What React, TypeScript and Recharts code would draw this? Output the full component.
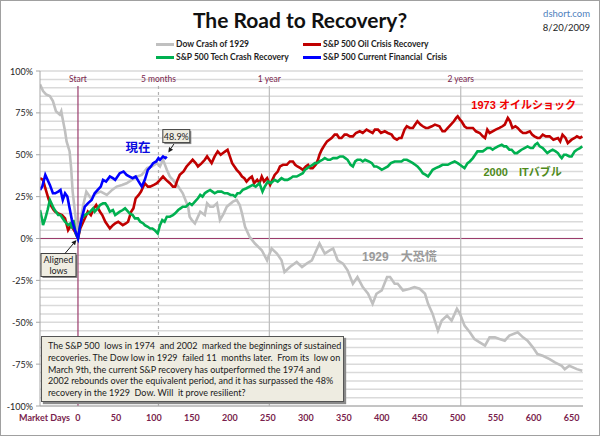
import React from "react";
import {
  LineChart,
  Line,
  XAxis,
  YAxis,
  CartesianGrid,
  ReferenceLine,
  ReferenceDot,
} from "recharts";

// [market day, % recovery measured from the aligned low]
const dow1929: [number, number][] = [
  [-50, 92], [-46, 88], [-42, 86], [-37, 85], [-33, 82], [-29, 76], [-24, 74], [-22, 76], [-20, 71],
  [-17, 64], [-15, 58], [-11, 52], [-9, 42], [-7, 28], [-4, 16], [-2, 8], [0, 0], [3, 10], [7, 20],
  [11, 28], [17, 24], [24, 27], [30, 28], [38, 26], [45, 29], [51, 31], [58, 32], [64, 33], [71, 35],
  [78, 37], [84, 38], [91, 42], [97, 43], [104, 45], [108, 43], [112, 47], [117, 41], [121, 37],
  [125, 35], [132, 31], [138, 27], [145, 19], [147, 13], [150, 11], [154, 9], [158, 13], [161, 16],
  [167, 14], [170, 21], [174, 19], [178, 19], [183, 21], [187, 11], [192, 15], [196, 19], [204, 22],
  [209, 23], [213, 20], [216, 15], [220, 7], [226, 1], [233, -3], [242, -7], [249, -13], [255, -6],
  [262, -9], [268, -13], [272, -20], [279, -17], [288, -14], [295, -17], [301, -15], [308, -13],
  [312, -9], [318, -3], [325, -9], [332, -7], [336, -6], [342, -13], [349, -15], [355, -19], [362, -27],
  [368, -23], [375, -29], [382, -33], [388, -39], [393, -33], [400, -31], [407, -23], [411, -23],
  [417, -27], [421, -27], [428, -31], [437, -30], [443, -29], [450, -30], [457, -33], [461, -39],
  [467, -45], [474, -55], [479, -49], [486, -46], [492, -49], [499, -42], [503, -45], [509, -52],
  [516, -56], [522, -60], [529, -62], [536, -64], [542, -59], [549, -59], [555, -60], [562, -61],
  [568, -58], [579, -56], [586, -59], [592, -61], [599, -65], [605, -69], [612, -70], [621, -72],
  [628, -74], [637, -76], [641, -78], [647, -76], [657, -78], [664, -79],
];

const oil1973: [number, number][] = [
  [-50, 36], [-46, 35], [-43, 30], [-39, 24], [-36, 20], [-32, 17], [-30, 16], [-26, 15], [-21, 14],
  [-17, 12], [-13, 5], [-9, 8], [-4, 4], [0, 0], [3, 6], [7, 10], [10, 13], [13, 16], [17, 14],
  [21, 18], [24, 20], [29, 16], [32, 14], [36, 10], [42, 6], [46, 8], [49, 9], [53, 10], [59, 8],
  [63, 9], [66, 10], [70, 16], [73, 18], [76, 24], [80, 26], [83, 28], [88, 33], [92, 31], [95, 31],
  [100, 32], [104, 33], [108, 35], [112, 37], [116, 35], [121, 33], [125, 31], [128, 31], [131, 35],
  [134, 38], [139, 40], [143, 43], [147, 45], [151, 47], [155, 45], [158, 43], [163, 45], [167, 47],
  [170, 49], [173, 47], [176, 45], [180, 49], [184, 52], [188, 50], [191, 51], [194, 52], [197, 53],
  [200, 49], [203, 45], [206, 43], [209, 41], [213, 39], [216, 37], [219, 36], [222, 34], [226, 36],
  [229, 37], [232, 33], [236, 35], [239, 33], [242, 37], [245, 34], [249, 36], [253, 32], [256, 35],
  [259, 38], [263, 40], [266, 43], [270, 44], [275, 44], [279, 46], [283, 46], [286, 44], [289, 43],
  [293, 42], [296, 41], [300, 43], [303, 44], [306, 42], [309, 42], [313, 44], [316, 47], [318, 50],
  [321, 53], [325, 56], [328, 58], [331, 59], [334, 60], [338, 62], [341, 62], [344, 60], [347, 60],
  [351, 62], [354, 62], [358, 61], [362, 61], [366, 63], [371, 64], [375, 63], [380, 65], [384, 64],
  [388, 63], [391, 65], [395, 65], [399, 63], [404, 64], [408, 63], [413, 62], [416, 60], [420, 59],
  [423, 60], [426, 60], [430, 65], [433, 67], [437, 66], [441, 66], [444, 68], [447, 70], [451, 68],
  [454, 67], [458, 66], [461, 66], [466, 67], [470, 68], [476, 67], [480, 64], [483, 64], [487, 66],
  [491, 68], [495, 70], [498, 72], [500, 73], [503, 71], [505, 70], [509, 67], [512, 66], [516, 66],
  [520, 66], [524, 64], [529, 63], [533, 61], [536, 60], [539, 65], [542, 63], [546, 64], [550, 65],
  [555, 66], [559, 67], [562, 68], [566, 72], [569, 70], [572, 66], [576, 67], [579, 66], [583, 64],
  [586, 63], [590, 63], [595, 64], [598, 62], [601, 61], [605, 60], [608, 60], [612, 62], [616, 61],
  [621, 61], [626, 59], [632, 60], [635, 58], [638, 62], [642, 60], [645, 57], [650, 59], [654, 60],
  [657, 61], [661, 60], [664, 61],
];

const tech2000: [number, number][] = [
  [-50, 17], [-47, 11], [-46, 8], [-43, 12], [-40, 17], [-37, 23], [-35, 21], [-32, 18], [-29, 16],
  [-26, 14], [-23, 14], [-20, 12], [-17, 10], [-13, 8], [-10, 9], [-8, 6], [-6, 11], [-3, 3], [0, 0],
  [3, 8], [5, 12], [9, 14], [13, 15], [16, 16], [20, 18], [22, 16], [26, 18], [29, 20], [33, 21],
  [36, 21], [39, 19], [42, 16], [46, 17], [49, 14], [52, 15], [55, 16], [59, 17], [62, 18], [66, 16],
  [68, 15], [72, 14], [75, 12], [79, 12], [82, 10], [86, 9], [88, 8], [92, 7], [95, 6], [98, 6],
  [101, 5], [105, 3], [108, 8], [111, 11], [114, 10], [117, 13], [121, 13], [125, 14], [128, 15],
  [132, 17], [135, 18], [138, 19], [142, 19], [147, 21], [150, 20], [154, 22], [158, 24], [161, 26],
  [164, 25], [167, 27], [170, 28], [174, 29], [177, 28], [180, 27], [184, 28], [189, 28], [193, 27],
  [197, 27], [201, 26], [204, 26], [207, 25], [210, 27], [213, 27], [217, 29], [222, 30], [226, 31],
  [230, 32], [234, 31], [239, 33], [243, 28], [246, 31], [250, 34], [254, 33], [259, 35], [263, 34],
  [268, 36], [272, 35], [276, 35], [280, 36], [283, 37], [288, 37], [292, 38], [296, 39], [299, 41],
  [302, 42], [305, 43], [309, 44], [312, 45], [315, 45], [318, 46], [322, 47], [325, 48], [329, 47],
  [332, 47], [336, 48], [341, 48], [345, 49], [349, 49], [352, 48], [355, 47], [359, 44], [362, 43],
  [365, 46], [368, 47], [372, 47], [375, 46], [378, 47], [383, 46], [387, 45], [390, 43], [393, 43],
  [397, 42], [400, 41], [404, 42], [408, 43], [412, 45], [417, 46], [421, 46], [426, 46], [429, 47],
  [433, 47], [437, 46], [441, 45], [444, 44], [447, 43], [451, 41], [454, 39], [458, 38], [461, 37],
  [464, 39], [467, 41], [471, 42], [476, 43], [480, 44], [483, 44], [487, 44], [491, 45], [496, 46],
  [500, 45], [503, 44], [506, 43], [509, 42], [513, 45], [516, 46], [520, 48], [523, 50], [526, 52],
  [530, 52], [533, 52], [536, 53], [539, 54], [543, 54], [546, 53], [549, 54], [553, 55], [558, 56],
  [561, 55], [564, 55], [568, 53], [571, 53], [575, 51], [578, 51], [581, 52], [584, 53], [588, 54],
  [592, 55], [596, 54], [599, 54], [602, 56], [605, 57], [608, 55], [612, 54], [616, 52], [618, 51],
  [621, 52], [625, 53], [629, 52], [632, 51], [635, 49], [637, 48], [640, 50], [643, 50], [647, 49],
  [650, 49], [654, 52], [657, 53], [661, 54], [664, 55],
];

const current2009: [number, number][] = [
  [-50, 29], [-47, 31], [-43, 38], [-41, 36], [-37, 32], [-33, 27], [-30, 27], [-26, 28], [-23, 29],
  [-20, 23], [-17, 27], [-14, 25], [-11, 18], [-8, 11], [-4, 5], [0, 0], [3, 8], [6, 14], [9, 19],
  [13, 21], [18, 23], [22, 27], [26, 29], [30, 31], [33, 35], [37, 34], [42, 37], [46, 36], [49, 35],
  [55, 39], [60, 40], [64, 38], [68, 37], [72, 36], [76, 37], [80, 34], [84, 31], [88, 35], [92, 41],
  [96, 43], [99, 45], [103, 46], [106, 48], [108, 47], [112, 49], [115, 48], [117, 48.9],
];

const dayTicks = [0, 50, 100, 150, 200, 250, 300, 350, 400, 450, 500, 550, 600, 650];
const pctTicks = [
  -100, -95, -90, -85, -80, -75, -70, -65, -60, -55, -50, -45, -40, -35, -30, -25, -20, -15, -10, -5,
  0, 5, 10, 15, 20, 25, 30, 35, 40, 45, 50, 55, 60, 65, 70, 75, 80, 85, 90, 95, 100,
];

const milestones = [
  { day: 0, label: "Start", stroke: "#9b3b6b", dash: undefined },
  { day: 106, label: "5 months", stroke: "#b0b0b0", dash: "3 3" },
  { day: 252, label: "1 year", stroke: "#bdbdbd", dash: undefined },
  { day: 504, label: "2 years", stroke: "#bdbdbd", dash: undefined },
];

const series = [
  { name: "Dow Crash of 1929", color: "#c0c0c0", points: dow1929 },
  { name: "S&P 500 Oil Crisis Recovery", color: "#c00000", points: oil1973 },
  { name: "S&P 500 Tech Crash Recovery", color: "#00b050", points: tech2000 },
  { name: "S&P 500 Current Financial  Crisis", color: "#0000ff", points: current2009 },
];

const noteLines = [
  "The S&P 500  lows in 1974  and 2002  marked the beginnings of sustained",
  "recoveries. The Dow low in 1929  failed 11  months later.  From its  low on",
  "March 9th, the current S&P recovery has outperformed the 1974 and",
  "2002 rebounds over the equivalent period, and it has surpassed the 48%",
  "recovery in the 1929  Dow. Will  it prove resilient?",
];

const FONT = "Lato, 'Open Sans', sans-serif";
const JP_FONT = "'Liberation Sans', 'Noto Sans CJK JP', sans-serif";
const MAROON = "#7a1f4e";

const toPoints = (pts: [number, number][]) => pts.map(([day, pct]) => ({ day, pct }));
const lastCurrent = current2009[current2009.length - 1];

function Arrow({ x1, y1, x2, y2 }: { x1: number; y1: number; x2: number; y2: number }) {
  const a = Math.atan2(y2 - y1, x2 - x1);
  const len = 5;
  const w = 2.4;
  const bx = x2 - len * Math.cos(a);
  const by = y2 - len * Math.sin(a);
  const px = -Math.sin(a) * w;
  const py = Math.cos(a) * w;
  return (
    <g>
      <line x1={x1} y1={y1} x2={bx} y2={by} stroke="#1a1a1a" strokeWidth={1} />
      <polygon points={`${x2},${y2} ${bx + px},${by + py} ${bx - px},${by - py}`} fill="#1a1a1a" />
    </g>
  );
}

function NoteBox({ x, y, w, h, lines }: { x: number; y: number; w: number; h: number; lines: string[] }) {
  return (
    <g>
      <rect x={x + 1.5} y={y + 1.5} width={w} height={h} fill="#8a8a8a" />
      <rect x={x} y={y} width={w} height={h} fill="#efede2" stroke="#404040" strokeWidth={1} />
      {lines.map((t, i) => (
        <text
          key={t}
          x={x + w / 2}
          y={y + h / 2 + (i - (lines.length - 1) / 2) * 10.5}
          textAnchor="middle"
          dominantBaseline="central"
          fontFamily={FONT}
          fontSize={9}
          fill="#222"
        >
          {t}
        </text>
      ))}
    </g>
  );
}

function YTick({ x, y, payload }: any) {
  if (payload.value % 25 !== 0) return <g />;
  return (
    <g>
      <line x1={x - 4} y1={y} x2={x} y2={y} stroke="#a6a6a6" />
      <text x={x - 7} y={y} textAnchor="end" dominantBaseline="central" fontFamily={FONT} fontSize={9} fill="#262626">
        {payload.value}%
      </text>
    </g>
  );
}

function XTick({ x, y, payload }: any) {
  return (
    <text x={x} y={y + 11} textAnchor="middle" dominantBaseline="central" fontFamily={FONT} fontWeight="bold" fontSize={9} fill={MAROON}>
      {payload.value}
    </text>
  );
}

function Legend() {
  return (
    <>
      {series.map((s, i) => (
        <div
          key={s.name}
          style={{
            position: "absolute",
            left: i % 2 === 0 ? 156 : 303,
            top: i < 2 ? 38 : 51,
            height: 12,
            display: "flex",
            alignItems: "center",
            fontFamily: FONT,
            fontWeight: "bold",
            fontSize: 8.5,
            color: "#1e1e1e",
            whiteSpace: "pre",
          }}
        >
          <span style={{ width: 18, height: 3, background: s.color, marginRight: 2 }} />
          {s.name}
        </div>
      ))}
    </>
  );
}

export default function App() {
  return (
    <div style={{ position: "fixed", left: 0, top: 0, width: 600, height: 436, background: "#fff", overflow: "hidden" }}>
      <div style={{ position: "absolute", top: 7, left: 0, width: 600, textAlign: "center", fontFamily: FONT, fontWeight: "bold", fontSize: 21, color: "#111" }}>
        The Road to Recovery?
      </div>
      <div style={{ position: "absolute", top: 7, right: 10, textAlign: "right", fontFamily: FONT, fontSize: 9.5, lineHeight: "14px" }}>
        <div style={{ color: "#4f81bd" }}>dshort.com</div>
        <div style={{ color: "#222" }}>8/20/2009</div>
      </div>
      <Legend />

      <LineChart width={600} height={436} margin={{ top: 71, right: 17, bottom: 0, left: 0 }} style={{ position: "absolute", left: 0, top: 0 }}>
        <CartesianGrid vertical={false} stroke="#dadada" strokeWidth={1.5} />
        <XAxis
          dataKey="day"
          type="number"
          domain={[-50, 665]}
          ticks={dayTicks}
          allowDataOverflow
          height={30}
          tickSize={0}
          tickMargin={0}
          tickLine={false}
          axisLine={{ stroke: "#a6a6a6" }}
          tick={<XTick />}
          label={({ viewBox }: any) => (
            <text x={viewBox.x + 30} y={viewBox.y + 11} textAnchor="end" dominantBaseline="central" fontFamily={FONT} fontWeight="bold" fontSize={9} fill={MAROON}>
              Market Days
            </text>
          )}
        />
        <YAxis
          type="number"
          domain={[-100, 100]}
          ticks={pctTicks}
          interval={0}
          width={40}
          tickSize={0}
          tickMargin={0}
          tickLine={false}
          axisLine={{ stroke: "#a6a6a6" }}
          tick={<YTick />}
        />
        <ReferenceLine y={0} stroke="#9b3b6b" strokeWidth={1.2} />
        {milestones.map((m) => (
          <ReferenceLine
            key={m.label}
            segment={[{ x: m.day, y: 91 }, { x: m.day, y: -100 }]}
            stroke={m.stroke}
            strokeDasharray={m.dash}
            strokeWidth={1.2}
            label={({ viewBox }: any) => (
              <text x={viewBox.x} y={viewBox.y - 4} textAnchor="middle" fontFamily={FONT} fontSize={8.5} fill={MAROON}>
                {m.label}
              </text>
            )}
          />
        ))}
        {series.map((s) => (
          <Line
            key={s.name}
            data={toPoints(s.points)}
            dataKey="pct"
            type="linear"
            stroke={s.color}
            strokeWidth={2.6}
            dot={false}
            activeDot={false}
            isAnimationActive={false}
          />
        ))}
        <ReferenceDot
          x={lastCurrent[0]}
          y={lastCurrent[1]}
          r={0}
          ifOverflow="visible"
          shape={({ cx, cy }: any) => (
            <g>
              <Arrow x1={cx + 8} y1={cy - 14} x2={cx + 1.5} y2={cy - 4} />
              <NoteBox x={cx - 4} y={cy - 27} w={27} h={13} lines={[`${lastCurrent[1]}%`]} />
            </g>
          )}
        />
        <ReferenceDot
          x={0}
          y={0}
          r={0}
          ifOverflow="visible"
          shape={({ cx, cy }: any) => (
            <g>
              <NoteBox x={cx - 37} y={cy + 15} w={35} h={23} lines={["Aligned", "lows"]} />
              <Arrow x1={cx - 13} y1={cy + 15} x2={cx - 1.5} y2={cy + 1.5} />
            </g>
          )}
        />
        <ReferenceDot
          x={79}
          y={54}
          r={0}
          ifOverflow="visible"
          shape={({ cx, cy }: any) => (
            <text x={cx} y={cy} textAnchor="middle" dominantBaseline="central" fontFamily={JP_FONT} fontWeight="bold" fontSize={12.5} fill="#0a0ae0">
              現在
            </text>
          )}
        />
        <ReferenceDot
          x={518}
          y={80}
          r={0}
          ifOverflow="visible"
          shape={({ cx, cy }: any) => (
            <text x={cx} y={cy} dominantBaseline="central" fontFamily={JP_FONT} fontWeight="bold" fontSize={11} fill="#f00000">
              1973 オイルショック
            </text>
          )}
        />
        <ReferenceDot
          x={534}
          y={40}
          r={0}
          ifOverflow="visible"
          shape={({ cx, cy }: any) => (
            <text x={cx} y={cy} dominantBaseline="central" fontFamily={JP_FONT} fontWeight="bold" fontSize={11} fill="#4e8a1a">
              2000　ITバブル
            </text>
          )}
        />
        <ReferenceDot
          x={374}
          y={-11}
          r={0}
          ifOverflow="visible"
          shape={({ cx, cy }: any) => (
            <text x={cx} y={cy} dominantBaseline="central" fontFamily={JP_FONT} fontWeight="bold" fontSize={12} fill="#9a9a9a">
              1929　大恐慌
            </text>
          )}
        />
      </LineChart>

      <div
        style={{
          position: "absolute",
          left: 41,
          top: 336,
          width: 303,
          height: 66,
          boxSizing: "border-box",
          background: "#eeece1",
          border: "1px solid #555",
          boxShadow: "2px 2px 1px #8a8a8a",
          padding: "3px 0 0 6px",
          fontFamily: FONT,
          fontSize: 9,
          lineHeight: "11.8px",
          color: "#1a1a1a",
          whiteSpace: "pre",
        }}
      >
        {noteLines.join("\n")}
      </div>
      <div style={{ position: "absolute", inset: 0, border: "1px solid #a0a0a0", pointerEvents: "none" }} />
    </div>
  );
}
